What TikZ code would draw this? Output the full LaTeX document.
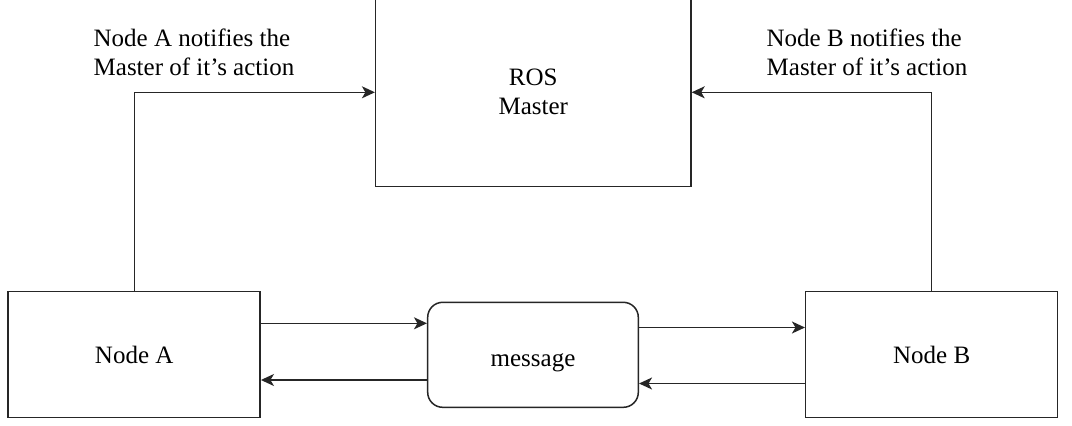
\documentclass[tikz,border=0pt]{standalone}
\usepackage{fontspec}
\setmainfont{Liberation Serif}
\usetikzlibrary{arrows.meta}
\begin{document}
\begin{tikzpicture}[x=1pt,y=1pt,
  box/.style={draw=black!85, line width=1.5pt, fill=white, inner sep=0pt, font=\fontsize{25}{29}\selectfont, align=center},
  conn/.style={draw=black!85, line width=1.4pt, -{Stealth[length=13pt,width=12pt,inset=3.5pt]}},
  lbl/.style={font=\fontsize{25}{29}\selectfont, align=left, inner sep=0pt}]
\useasboundingbox (0,0) rectangle (1072,-426);
\clip (0,0) rectangle (1072,-426);
\fill[white] (0,0) rectangle (1072,-426);
\node[box, minimum width=315.3pt, minimum height=188.7pt] (M) at (533.3,-92.3) {ROS\\Master};
\node[box, minimum width=252pt, minimum height=125.6pt] (A) at (134.2,-354.5) {Node A};
\node[box, minimum width=252pt, minimum height=125.6pt] (B) at (931.7,-354.5) {Node B};
\node[box, rounded corners=15pt, minimum width=210.6pt, minimum height=105pt] (S) at (533,-354.8) {\raisebox{-4pt}[16pt][0pt]{message}};
\node[lbl] (LA) at (194,-52) {Node A notifies the\\Master of it's action};
\node[lbl] (LB) at (867,-52) {Node B notifies the\\Master of it's action};
\draw[conn] (A.north) |- (M.west);
\draw[conn] (B.north) |- (M.east);
\draw[conn] (A.east |- 0,-323.3) -- (S.west |- 0,-323.3);
\draw[conn] (S.west |- 0,-380) -- (A.east |- 0,-380);
\draw[conn] (S.east |- 0,-327.5) -- (B.west |- 0,-327.5);
\draw[conn] (B.west |- 0,-383.5) -- (S.east |- 0,-383.5);
\end{tikzpicture}
\end{document}
